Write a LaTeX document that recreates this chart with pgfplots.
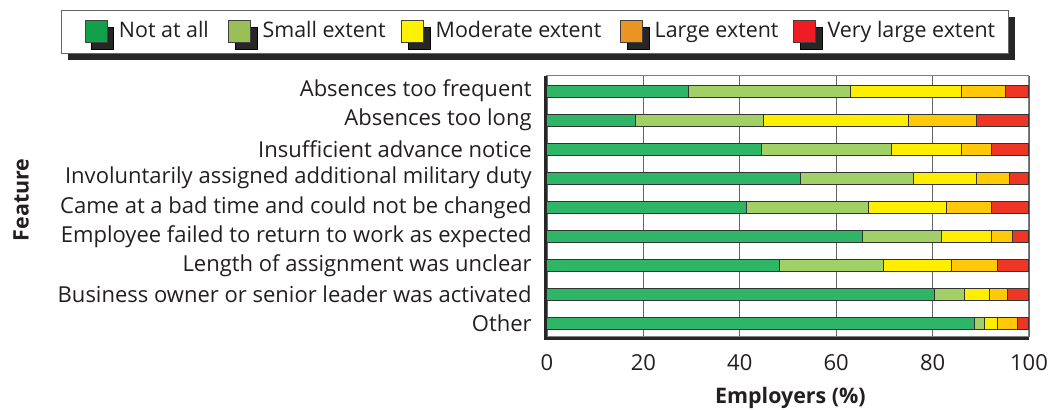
\documentclass[border=0pt]{standalone}
\usepackage{fontspec}
\setmainfont{Open Sans}
\usepackage{pgfplots}
\usepackage{pgfplotstable}
\pgfplotsset{compat=1.18}
\usetikzlibrary{shadows}
\definecolor{c1}{HTML}{2EB566}
\definecolor{c2}{HTML}{A0D066}
\definecolor{c3}{HTML}{FFEE00}
\definecolor{c4}{HTML}{FFC90A}
\definecolor{c5}{HTML}{EF3523}
\definecolor{lg1}{HTML}{12A04A}
\definecolor{lg2}{HTML}{9ABF55}
\definecolor{lg3}{HTML}{FFF200}
\definecolor{lg4}{HTML}{EC9422}
\definecolor{lg5}{HTML}{EE1C25}
\definecolor{txt}{HTML}{231F20}
\pgfplotstableread{
y a b c d e
9 29.3 33.6 23.2 9.0 4.9
8 18.3 26.7 30.1 14.1 10.8
7 44.5 26.9 14.7 6.2 7.7
6 52.5 23.6 13.1 6.8 4.0
5 41.4 25.2 16.3 9.4 7.7
4 65.5 16.4 10.4 4.3 3.4
3 48.2 21.6 14.2 9.4 6.6
2 80.3 6.3 5.2 3.8 4.4
1 88.7 2.1 2.6 4.3 2.3
}\data
\begin{document}
\begin{tikzpicture}
\begin{axis}[
 scale only axis, width=241pt, height=130.5pt,
 xbar stacked, bar width=6pt,
 xmin=0, xmax=100, ymin=0.543, ymax=9.516,
 xtick={0,20,...,100}, ytick={1,...,9},
 yticklabels={Other, Business owner or senior leader was activated, Length of assignment was unclear, Employee failed to return to work as expected, Came at a bad time and could not be changed, Involuntarily assigned additional military duty, Insufficient advance notice, Absences too long, Absences too frequent},
 xmajorgrids, major grid style={black!60, line width=0.6pt},
 axis line style={black!50, line width=0.5pt},
 major tick length=0pt, tick style={draw=none},
 tick label style={font=\fontsize{11}{13}\selectfont, inner sep=0pt, text=txt},
 /pgf/number format/assume math mode=true,
 xticklabel shift=8.5pt, yticklabel shift=7.5pt,
 xlabel={Employers (\%)}, ylabel={Feature},
 label style={font=\fontsize{10.7}{13}\selectfont\bfseries, text=txt},
 xlabel style={at={(axis description cs:0.505,-0.2337)}, anchor=center},
 ylabel style={at={(axis description cs:-1.0913,0.525)}, anchor=center},
 legend columns=5, legend cell align=left,
 legend style={at={(axis description cs:-1.0083,1.2529)}, anchor=north west,
   draw=black!60, line width=0.5pt, inner xsep=11.65pt, inner ysep=5pt,
   column sep=0pt, row sep=0pt,
   nodes={inner sep=0pt, text height=8pt, text depth=2.5pt, font=\fontsize{10.7}{13}\selectfont, text=txt},
   drop shadow={shadow xshift=3.3pt, shadow yshift=-3.3pt, opacity=1, fill=black!85}},
]
\addplot[fill=c1, draw=black!80, line width=0.5pt, forget plot] table[x=a, y=y]{\data};
\addplot[fill=c2, draw=black!80, line width=0.5pt, forget plot] table[x=b, y=y]{\data};
\addplot[fill=c3, draw=black!80, line width=0.5pt, forget plot] table[x=c, y=y]{\data};
\addplot[fill=c4, draw=black!80, line width=0.5pt, forget plot] table[x=d, y=y]{\data};
\addplot[fill=c5, draw=black!80, line width=0.5pt, forget plot] table[x=e, y=y]{\data};
\addlegendimage{legend image code/.code={\draw[draw=black!75, line width=0.5pt, fill=lg1] (0pt,-5.5pt) rectangle (11pt,5.5pt);}}
\addlegendentry{\hspace*{5.6pt}\makebox[54.75pt][l]{Not at all}}
\addlegendimage{legend image code/.code={\draw[draw=black!75, line width=0.5pt, fill=lg2] (0pt,-5.5pt) rectangle (11pt,5.5pt);}}
\addlegendentry{\hspace*{5.6pt}\makebox[69.4pt][l]{Small extent}}
\addlegendimage{legend image code/.code={\draw[draw=black!75, line width=0.5pt, fill=lg3] (0pt,-5.5pt) rectangle (11pt,5.5pt);}}
\addlegendentry{\hspace*{5.6pt}\makebox[92.4pt][l]{Moderate extent}}
\addlegendimage{legend image code/.code={\draw[draw=black!75, line width=0.5pt, fill=lg4] (0pt,-5.5pt) rectangle (11pt,5.5pt);}}
\addlegendentry{\hspace*{5.6pt}\makebox[69.4pt][l]{Large extent}}
\addlegendimage{legend image code/.code={\draw[draw=black!75, line width=0.5pt, fill=lg5] (0pt,-5.5pt) rectangle (11pt,5.5pt);}}
\addlegendentry{\hspace*{5.6pt}\makebox[78.75pt][l]{Very large extent}}
\coordinate (O) at (rel axis cs:0,0);
\coordinate (T) at (rel axis cs:0,1);
\coordinate (R) at (rel axis cs:1,0);
\end{axis}
\draw[black!85, line width=1.6pt] ([xshift=-0.8pt]T) -- ([xshift=-0.8pt, yshift=-0.8pt]O) -- ([yshift=-0.8pt]R);
\pgfresetboundingbox
\path ([xshift=-273.5pt, yshift=-36.5pt]O) rectangle ++(525pt,205pt);
\end{tikzpicture}
\end{document}
